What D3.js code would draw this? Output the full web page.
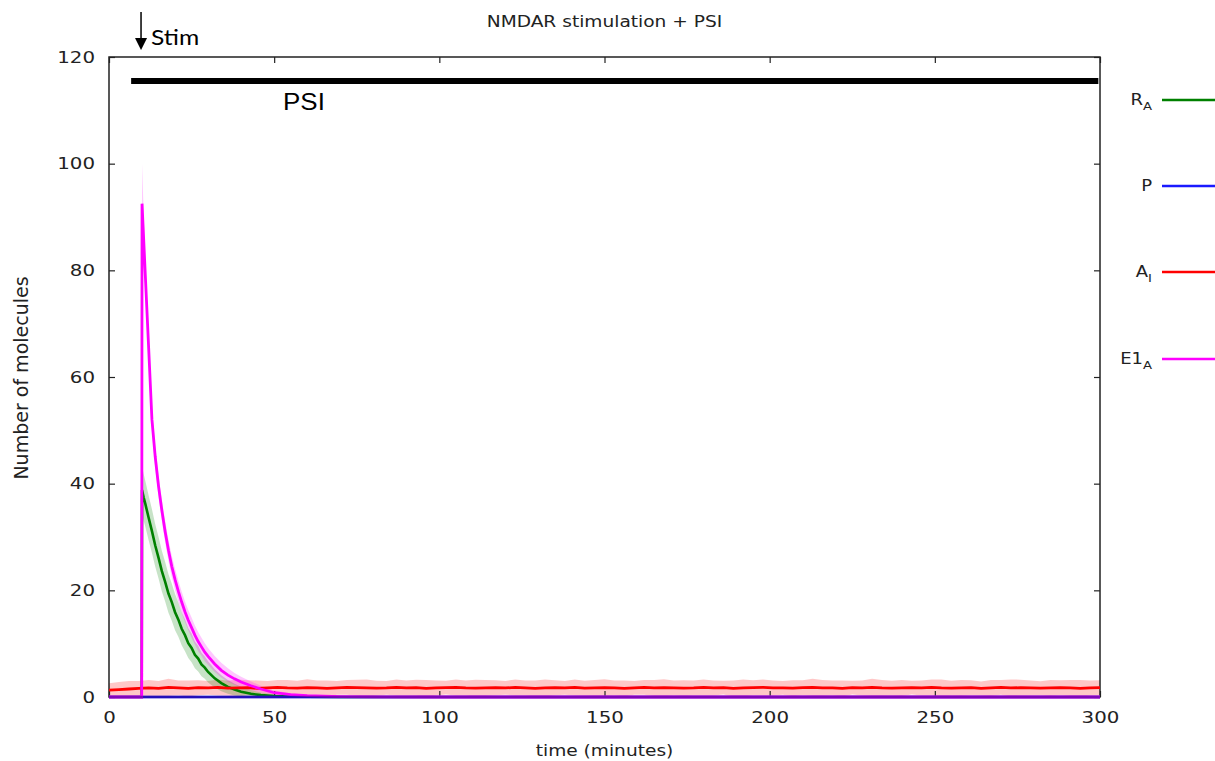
<!DOCTYPE html>
<html><head><meta charset="utf-8">
<script src="https://cdn.jsdelivr.net/npm/d3@7"></script>
<style>body{margin:0;background:#fff}svg{display:block}</style>
</head><body>
<svg id="c" width="1215" height="761"></svg>
<script>
// ---------------- data ----------------
const title = "NMDAR stimulation + PSI";
const xLabel = "time (minutes)";
const yLabel = "Number of molecules";
const xTicks = [0, 50, 100, 150, 200, 250, 300];
const yTicks = [0, 20, 40, 60, 80, 100, 120];
const stimTime = 10;
const psiPeriod = [6.7, 299.5];
const psiLevel = 115.5;

// R_A (green)
const raT      = [0, 9.9, 10, 10.5, 11, 12, 13, 14, 15, 16, 17, 18, 19, 20, 21, 22, 23, 24, 25, 26, 27, 28, 29, 30, 32, 34, 36, 38, 40, 43, 46, 50, 55, 60, 70, 300];
const raVal    = [0, 0, 38.8, 37.4, 36.2, 33.6, 31.1, 28.4, 26.1, 23.6, 21.6, 19.4, 17.8, 15.9, 14.5, 12.8, 11.6, 10.1, 9.2, 7.9, 7.2, 6.1, 5.5, 4.7, 3.5, 2.6, 1.9, 1.4, 1.0, 0.6, 0.35, 0.18, 0.08, 0.04, 0.01, 0];
const raSpread = [0, 0, 4.5, 4.4, 4.3, 4.2, 4.1, 4.0, 3.9, 3.8, 3.7, 3.6, 3.5, 3.4, 3.2, 3.1, 3.0, 2.8, 2.7, 2.5, 2.4, 2.2, 2.1, 2.0, 1.7, 1.5, 1.3, 1.1, 0.9, 0.7, 0.5, 0.35, 0.2, 0.1, 0.03, 0];

// P (blue)
const pT   = [0, 300];
const pVal = [0, 0];

// A_I (red), sampled every 3 minutes from 0 to 300
const aiVal = [1.3,1.4,1.5,1.6,1.7,1.6,1.8,1.7,1.6,1.75,1.7,1.8,1.65,1.7,1.75,1.6,1.7,1.8,1.7,1.65,
  1.75,1.7,1.6,1.7,1.8,1.75,1.7,1.65,1.7,1.8,1.7,1.75,1.6,1.7,1.75,1.8,1.7,1.65,1.7,1.75,
  1.7,1.8,1.7,1.6,1.7,1.75,1.7,1.8,1.65,1.7,1.75,1.7,1.6,1.7,1.8,1.7,1.75,1.7,1.65,1.7,
  1.8,1.7,1.75,1.6,1.7,1.75,1.8,1.7,1.7,1.65,1.75,1.8,1.7,1.7,1.6,1.75,1.7,1.8,1.7,1.65,
  1.7,1.75,1.7,1.8,1.7,1.65,1.7,1.75,1.6,1.7,1.8,1.7,1.75,1.7,1.65,1.7,1.75,1.7,1.6,1.7,1.75];
const aiSpread = [1.3,1.4,1.5,1.4,1.5,1.4,1.6,1.4,1.5,1.4,1.3,1.5,1.4,1.6,1.4,1.5,1.3,1.4,1.5,1.4,
  1.6,1.4,1.5,1.3,1.4,1.5,1.6,1.4,1.3,1.5,1.4,1.5,1.6,1.4,1.3,1.5,1.4,1.6,1.5,1.4,
  1.3,1.5,1.4,1.5,1.6,1.4,1.3,1.5,1.4,1.5,1.6,1.4,1.5,1.3,1.4,1.5,1.6,1.4,1.5,1.4,
  1.5,1.4,1.3,1.5,1.6,1.4,1.5,1.4,1.3,1.5,1.4,1.6,1.5,1.4,1.5,1.3,1.4,1.6,1.5,1.4,
  1.5,1.3,1.4,1.5,1.6,1.4,1.5,1.4,1.3,1.5,1.4,1.6,1.5,1.4,1.3,1.5,1.4,1.5,1.6,1.4,1.4];

// E1_A (magenta)
const e1T      = [0, 9.9, 10, 11, 12, 13, 14, 15, 16, 17, 18, 19, 20, 21, 22, 23, 24, 25, 26, 27, 28, 29, 30, 32, 34, 36, 38, 40, 43, 46, 50, 55, 60, 70, 80, 100, 300];
const e1Val    = [0, 0, 92.5, 79, 65.5, 52, 45, 39.5, 35, 31, 27.5, 24.5, 22, 19.8, 17.8, 16, 14.4, 13, 11.6, 10.4, 9.4, 8.4, 7.6, 6.2, 5.0, 4.1, 3.4, 2.8, 2.1, 1.5, 0.8, 0.45, 0.25, 0.08, 0.02, 0, 0];
const e1Spread = [0, 0, 7.5, 2.4, 2.3, 2.2, 2.1, 2.1, 2.0, 2.0, 2.0, 2.0, 2.0, 2.0, 2.0, 1.9, 1.9, 1.9, 1.8, 1.8, 1.7, 1.7, 1.6, 1.5, 1.4, 1.3, 1.1, 1.0, 0.8, 0.6, 0.4, 0.25, 0.15, 0.05, 0.02, 0, 0];

const legendNames = [["R","A"], ["P",""], ["A","I"], ["E1","A"]];
const colors = ["#008000", "#1a1aff", "#ff0000", "#ff00ff"];

// ---------------- drawing ----------------
const svg = d3.select("#c");
const X0 = 109, X1 = 1100, Y0 = 697, Y1 = 57;
const x = d3.scaleLinear().domain([0, 300]).range([X0, X1]);
const y = d3.scaleLinear().domain([0, 120]).range([Y0, Y1]);
const SX = 1.2; // horizontal stretch of the original raster text
const FONT = "DejaVu Sans, sans-serif";

function stretchedText(g, tx, ty, str, size, anchor, fill, sx) {
  return g.append("text")
    .attr("transform", `translate(${tx},${ty}) scale(${sx || SX},1)`)
    .attr("text-anchor", anchor)
    .attr("font-family", FONT)
    .attr("font-size", size)
    .attr("fill", fill || "#222")
    .text(str);
}

const redT = d3.range(0, 301, 3);

const bandArea = d3.area().x(d => x(d.t)).y0(d => y(Math.max(0, d.v - d.s))).y1(d => y(d.v + d.s));
const line = d3.line().x(d => x(d.t)).y(d => y(d.v));
function zipData(ts, vs, ss) { return ts.map((t, i) => ({ t, v: vs[i], s: ss ? ss[i] : 0 })); }

const raData = zipData(raT, raVal, raSpread);
const pData = zipData(pT, pVal);
const aiData = zipData(redT, aiVal, aiSpread);
const e1Data = zipData(e1T, e1Val, e1Spread);

// bands
svg.append("path").attr("d", bandArea(aiData)).attr("fill", "#ff0000").attr("fill-opacity", 0.22);
svg.append("path").attr("d", bandArea(raData)).attr("fill", "#008000").attr("fill-opacity", 0.22);
svg.append("path").attr("d", bandArea(e1Data)).attr("fill", "#ff00ff").attr("fill-opacity", 0.22);

// frame
svg.append("rect").attr("x", X0).attr("y", Y1).attr("width", X1 - X0).attr("height", Y0 - Y1)
  .attr("fill", "none").attr("stroke", "#222").attr("stroke-width", 1.5);

// axes (ticks inward, mirrored)
const axL = svg.append("g").attr("transform", `translate(${X0},0)`)
  .call(d3.axisLeft(y).tickValues(yTicks).tickSizeInner(-6).tickSizeOuter(0).tickPadding(14));
const axB = svg.append("g").attr("transform", `translate(0,${Y0})`)
  .call(d3.axisBottom(x).tickValues(xTicks).tickSizeInner(-6).tickSizeOuter(0).tickPadding(14));
const axR = svg.append("g").attr("transform", `translate(${X1},0)`)
  .call(d3.axisRight(y).tickValues(yTicks).tickSizeInner(-6).tickSizeOuter(0).tickFormat(""));
const axT = svg.append("g").attr("transform", `translate(0,${Y1})`)
  .call(d3.axisTop(x).tickValues(xTicks).tickSizeInner(-6).tickSizeOuter(0).tickFormat(""));
[axL, axB, axR, axT].forEach(a => {
  a.select(".domain").remove();
  a.selectAll(".tick line").attr("stroke", "#222").attr("stroke-width", 1.2);
  a.selectAll(".tick text").attr("font-family", FONT).attr("font-size", 16.5).attr("fill", "#222");
});
axL.selectAll(".tick text").attr("transform", `scale(${SX},1)`).attr("x", -14 / SX);
axB.selectAll(".tick text").attr("transform", `scale(${SX},1)`);

// lines
svg.append("path").attr("d", line(raData)).attr("fill", "none").attr("stroke", colors[0]).attr("stroke-width", 2.6);
svg.append("path").attr("d", line(pData)).attr("fill", "none").attr("stroke", colors[1]).attr("stroke-width", 2.5);
svg.append("path").attr("d", line(aiData)).attr("fill", "none").attr("stroke", colors[2]).attr("stroke-width", 2.8);
svg.append("path").attr("d", line(e1Data)).attr("fill", "none").attr("stroke", colors[3]).attr("stroke-width", 2.8);
// blue again, semi-transparent, to give the purple baseline
svg.append("path").attr("d", line(pData)).attr("fill", "none").attr("stroke", "#2a0a8a").attr("stroke-opacity", 0.6).attr("stroke-width", 2.5);

// PSI bar
svg.append("line").attr("x1", x(psiPeriod[0])).attr("x2", x(psiPeriod[1]))
  .attr("y1", y(psiLevel)).attr("y2", y(psiLevel)).attr("stroke", "#000").attr("stroke-width", 6);
svg.append("text").attr("transform", `translate(283,110) scale(1.13,1)`)
  .attr("font-family", "Liberation Sans, Arial, sans-serif").attr("font-size", 23).attr("fill", "#000").text("PSI");

// Stim arrow
const sx = x(stimTime) - 1;
svg.append("line").attr("x1", sx).attr("x2", sx).attr("y1", 12).attr("y2", 40).attr("stroke", "#000").attr("stroke-width", 1.5);
svg.append("path").attr("d", `M${sx - 6},38 L${sx + 6},38 L${sx},50 Z`).attr("fill", "#000");
svg.append("text").attr("transform", `translate(151,45) scale(1.12,1)`)
  .attr("font-family", "Lato, Open Sans, sans-serif").attr("font-size", 22).attr("fill", "#000").text("Stim");

// titles
stretchedText(svg, (X0 + X1) / 2, 27, title, 15.5, "middle");
stretchedText(svg, (X0 + X1) / 2, 756, xLabel, 15.5, "middle");
svg.append("text").attr("transform", `translate(28,378) rotate(-90)`)
  .attr("text-anchor", "middle").attr("font-family", FONT).attr("font-size", 19).attr("fill", "#222").text(yLabel);

// legend
const legY = [100, 186, 272, 359];
legendNames.forEach((nm, i) => {
  const g = svg.append("g");
  g.append("line").attr("x1", 1162).attr("x2", 1215).attr("y1", legY[i]).attr("y2", legY[i])
    .attr("stroke", colors[i]).attr("stroke-width", 2.5);
  const t = g.append("text").attr("transform", `translate(1152,${legY[i] + 5}) scale(${SX},1)`)
    .attr("text-anchor", "end").attr("font-family", FONT).attr("font-size", 15).attr("fill", "#222");
  t.append("tspan").text(nm[0]);
  if (nm[1]) t.append("tspan").attr("font-size", 11).attr("dy", 5).text(nm[1]);
});
</script>
</body></html>
